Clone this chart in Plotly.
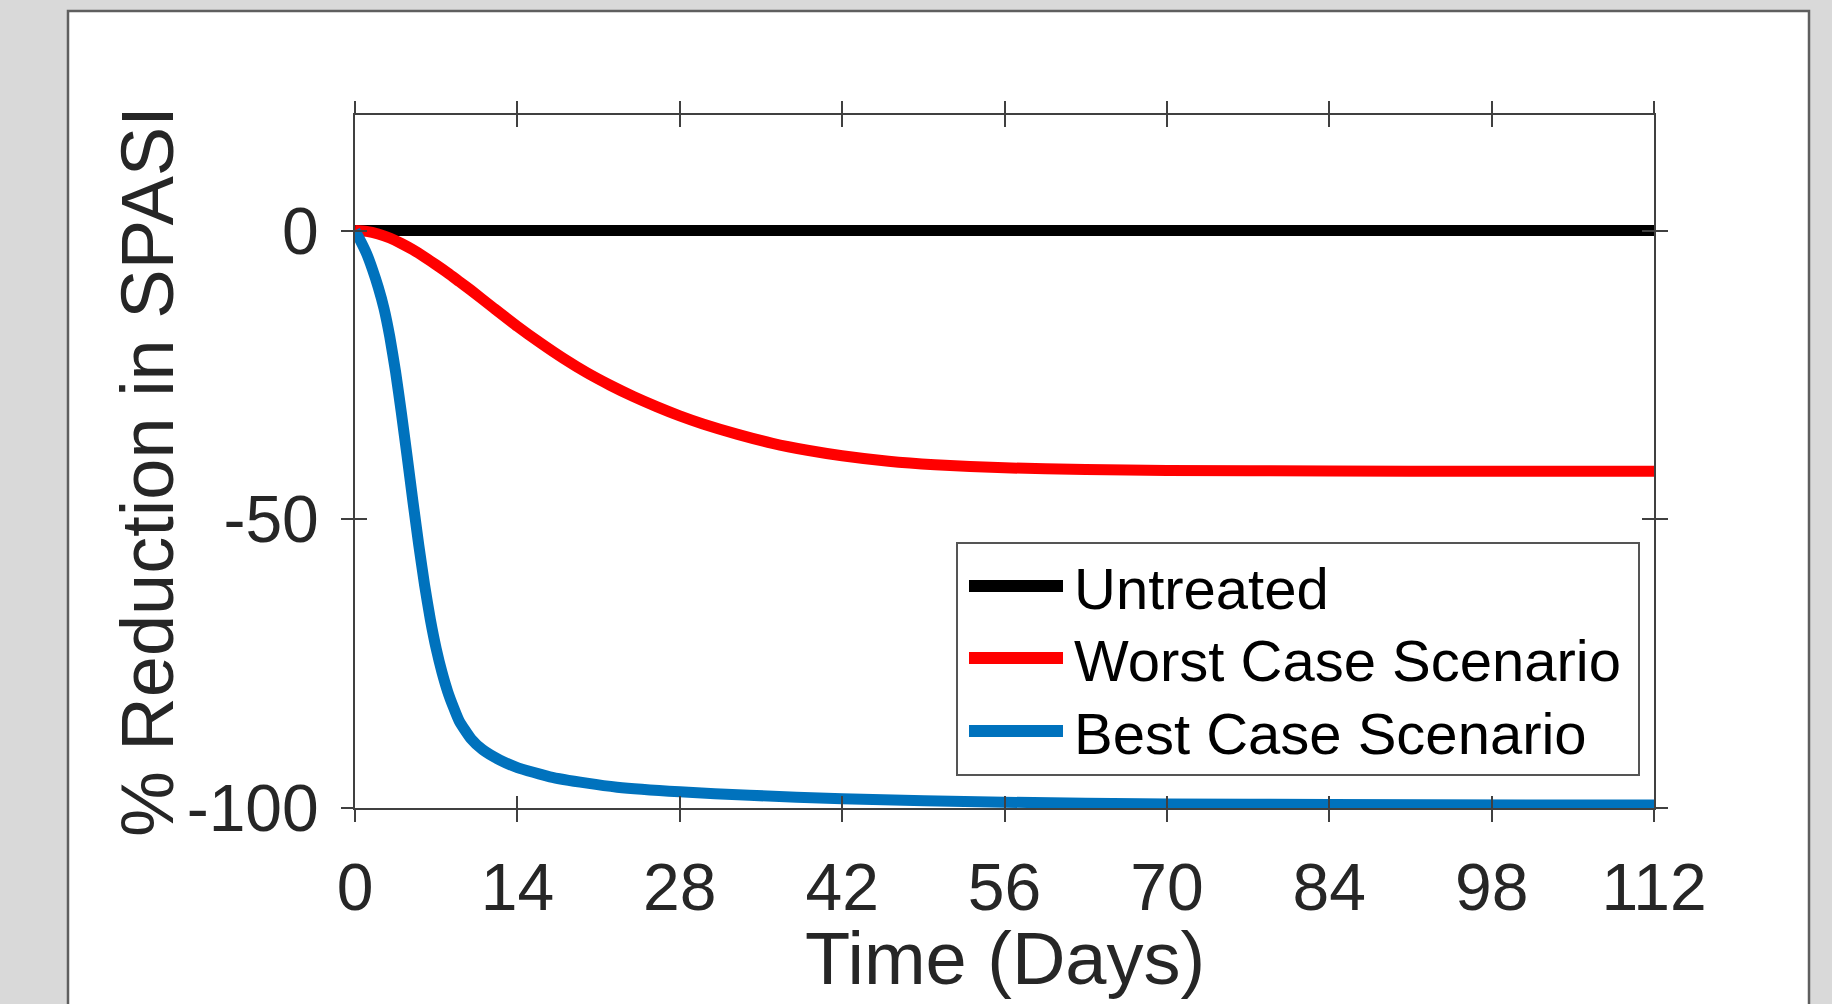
import plotly.graph_objects as go

# ---------------- data ----------------
days_untreated = [0, 14, 28, 42, 56, 70, 84, 98, 112]
untreated = [0, 0, 0, 0, 0, 0, 0, 0, 0]

days_worst = [0, 1, 2, 3, 4, 5, 6, 7, 8, 9, 10, 12, 14, 16, 18, 20, 22, 24, 26, 28,
              30, 33, 36, 39, 42, 46, 50, 56, 63, 70, 84, 98, 112]
worst = [0, -0.15, -0.6, -1.3, -2.25, -3.35, -4.6, -5.95, -7.35, -8.85, -10.35,
         -13.5, -16.6, -19.5, -22.2, -24.65, -26.8, -28.75, -30.5, -32.1, -33.5,
         -35.3, -36.85, -38.05, -39.0, -39.95, -40.55, -41.1, -41.4, -41.55,
         -41.65, -41.7, -41.7]

days_best = [0, 0.5, 1, 1.5, 2, 2.5, 3, 3.5, 4, 4.5, 5, 5.5, 6, 6.5, 7, 7.5, 8, 8.5,
             9, 10, 11, 12.5, 14, 16.8, 20, 22.6, 28, 34, 42, 56, 70, 84, 112]
best = [0, -1.9, -4.0, -6.7, -9.8, -13.5, -18.4, -24.5, -31.6, -39.2, -47.0, -54.5,
        -61.4, -67.4, -72.4, -76.5, -79.9, -82.6, -85.0, -88.0, -89.9, -91.7, -93.0,
        -94.6, -95.7, -96.4, -97.2, -97.8, -98.4, -99.0, -99.3, -99.4, -99.5]

series_names = ["Untreated", "Worst Case Scenario", "Best Case Scenario"]
series_colors = ["#000000", "#FF0000", "#0072BD"]

x_ticks = [0, 14, 28, 42, 56, 70, 84, 98, 112]
y_ticks = [-100, -50, 0]
x_range = [0, 112]
y_range = [-100, 20]
x_title = "Time (Days)"
y_title = "% Reduction in SPASI"

# ---------------- figure ----------------
W, H = 1832, 1004
L, R, T, B = 355, 178, 115, 196
FONT = "Liberation Sans, Arial, sans-serif"
AX = "#404040"
TXT = "#262626"

pw = W - L - R
ph = H - T - B


def px_x(p):
    return (p - L) / pw


def px_y(p):
    return (H - B - p) / ph


fig = go.Figure()
for xs, ys, name, col in zip([days_untreated, days_worst, days_best],
                             [untreated, worst, best], series_names, series_colors):
    fig.add_trace(go.Scatter(x=xs, y=ys, name=name, mode="lines", showlegend=False,
                             line=dict(color=col, width=11, shape="spline", smoothing=0.5)))

# invisible trace for the overlay axes (inside ticks)
fig.add_trace(go.Scatter(x=[None], y=[None], xaxis="x2", yaxis="y2",
                         showlegend=False, hoverinfo="skip"))

# white figure panel
fig.add_shape(type="rect", xref="paper", yref="paper", layer="below",
              x0=px_x(68), x1=px_x(1809), y0=px_y(1030), y1=px_y(11),
              fillcolor="white", line=dict(color="#5f5f5f", width=2.5))

# legend box (MATLAB style, long sample lines)
fig.add_shape(type="rect", xref="paper", yref="paper", layer="above",
              x0=px_x(957), x1=px_x(1639), y0=px_y(775), y1=px_y(543),
              fillcolor="white", line=dict(color="#555555", width=2))
legend_rows = [586, 658, 731]
for row_y, name, col in zip(legend_rows, series_names, series_colors):
    fig.add_shape(type="line", xref="paper", yref="paper", layer="above",
                  x0=px_x(969), x1=px_x(1063), y0=px_y(row_y), y1=px_y(row_y),
                  line=dict(color=col, width=12))
    fig.add_annotation(x=px_x(1072), y=px_y(row_y + 2), xref="paper", yref="paper",
                       text=name, showarrow=False, xanchor="left", yanchor="middle",
                       font=dict(family=FONT, size=58, color="#000000"))

# axis titles
fig.add_annotation(x=px_x(147), y=px_y(472), xref="paper", yref="paper",
                   text=y_title, textangle=-90, showarrow=False,
                   xanchor="center", yanchor="middle",
                   font=dict(family=FONT, size=74, color=TXT))
fig.add_annotation(x=px_x(1005), y=px_y(959), xref="paper", yref="paper",
                   text=x_title, showarrow=False,
                   xanchor="center", yanchor="middle",
                   font=dict(family=FONT, size=74, color=TXT))

fig.update_layout(
    width=W, height=H, autosize=False,
    margin=dict(l=L, r=R, t=T, b=B, pad=0, autoexpand=False),
    paper_bgcolor="#d9d9d9", plot_bgcolor="white",
    font=dict(family=FONT, color=TXT),
    showlegend=False,
    xaxis=dict(range=x_range, tickvals=x_ticks, ticktext=[str(v) for v in x_ticks],
               ticks="outside", ticklen=12, tickwidth=2, tickcolor=AX,
               showline=True, linecolor=AX, linewidth=2, mirror="ticks",
               showgrid=False, zeroline=False, ticklabelstandoff=9, automargin=False,
               tickfont=dict(family=FONT, size=66, color=TXT)),
    yaxis=dict(range=y_range, tickvals=y_ticks, ticktext=[str(v) for v in y_ticks],
               ticks="outside", ticklen=12, tickwidth=2, tickcolor=AX,
               showline=True, linecolor=AX, linewidth=2, mirror="ticks",
               showgrid=False, zeroline=False, ticklabelstandoff=9, automargin=False,
               tickfont=dict(family=FONT, size=66, color=TXT)),
    xaxis2=dict(range=x_range, tickvals=x_ticks, overlaying="x", anchor="y2",
                ticks="inside", ticklen=12, tickwidth=2, tickcolor=AX,
                showline=False, mirror="ticks", showticklabels=False, automargin=False,
                showgrid=False, zeroline=False),
    yaxis2=dict(range=y_range, tickvals=y_ticks, overlaying="y", anchor="x2",
                ticks="inside", ticklen=12, tickwidth=2, tickcolor=AX,
                showline=False, mirror="ticks", showticklabels=False, automargin=False,
                showgrid=False, zeroline=False),
)

fig.write_html("out.html", config={"displayModeBar": False},
               post_script="document.body.style.margin='0';document.body.style.overflow='hidden';")
